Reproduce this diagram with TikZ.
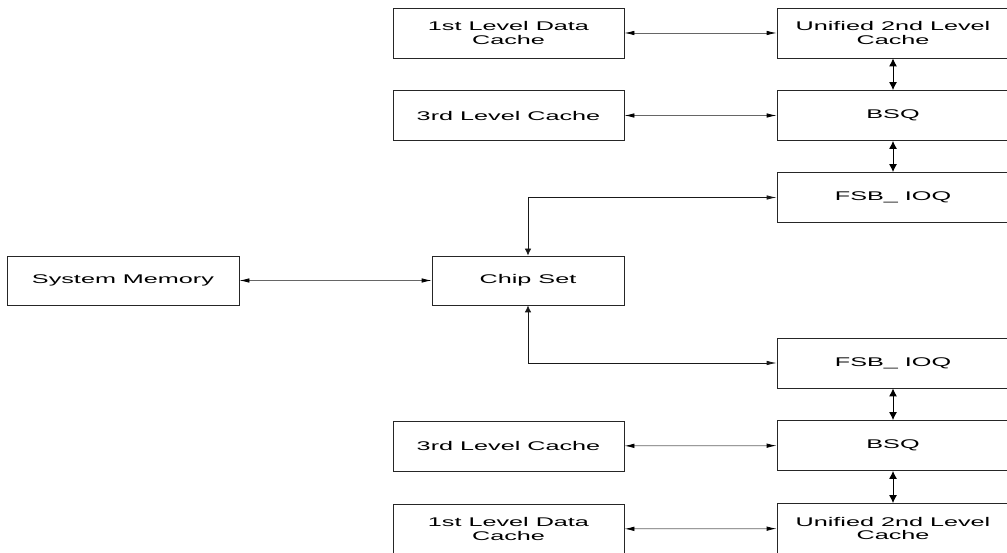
\documentclass[tikz,border=0pt]{standalone}
\usepackage{fontspec}
\setmainfont{Liberation Sans}[FakeStretch=2.0]
\usetikzlibrary{arrows.meta}
\begin{document}
\begin{tikzpicture}[x=1pt,y=-1pt,
  box/.style={draw=black!85,line width=0.8pt,minimum width=231pt,minimum height=50pt,inner sep=0pt,align=center,
    font=\fontsize{12.6}{13.2}\selectfont},
  htip/.style={Latex[length=10pt,width=4.5pt,color=black]},
  hlink/.style={draw=black!60,line width=0.8pt,{Latex[length=10pt,width=4.5pt,color=black]}-{Latex[length=10pt,width=4.5pt,color=black]}},
  vlink/.style={draw=black,line width=1pt,{Latex[length=8pt,width=8pt]}-{Latex[length=8pt,width=8pt]}},
  clink/.style={draw=black!90,line width=0.8pt}]
\useasboundingbox (0,0) rectangle (1007,553);
\fill[white] (0,0) rectangle (1007,553);
\node[box] (L1t) at (508.5,33) {1st Level Data\\Cache};
\node[box,minimum width=232pt] (U2t) at (893,33) {Unified 2nd Level\\Cache};
\node[box] (L3t) at (508.5,115.5) {3rd Level Cache};
\node[box,minimum width=232pt] (BSQt) at (893,115.5) {BSQ};
\node[box,minimum width=232pt] (FSBt) at (893,197.5) {FSB\_ IOQ};
\node[box,minimum width=232pt,minimum height=49pt] (SM) at (123,280.5) {System Memory};
\node[box,minimum width=192pt,minimum height=49pt] (CS) at (528,280.5) {Chip Set};
\node[box,minimum width=232pt] (FSBb) at (893,363) {FSB\_ IOQ};
\node[box,minimum width=232pt] (BSQb) at (893,445.5) {BSQ};
\node[box] (L3b) at (508.5,446) {3rd Level Cache};
\node[box] (L1b) at (508.5,529) {1st Level Data\\Cache};
\node[box,minimum width=232pt] (U2b) at (893,528.5) {Unified 2nd Level\\Cache};
\draw[hlink] (L1t) -- (U2t);
\draw[hlink] (L3t) -- (BSQt);
\draw[hlink] (L3b) -- (BSQb);
\draw[hlink] (L1b) -- (U2b);
\draw[hlink] (SM) -- (CS);
\draw[vlink] (U2t) -- (BSQt);
\draw[vlink] (BSQt) -- (FSBt);
\draw[vlink] (FSBb) -- (BSQb);
\draw[vlink] (BSQb) -- (U2b);
\draw[clink,{Latex[length=7pt,width=6.5pt]}-{Latex[length=10pt,width=4.5pt]}] (CS.north) |- (FSBt.west);
\draw[clink,{Latex[length=7pt,width=6.5pt]}-{Latex[length=10pt,width=4.5pt]}] (CS.south) |- (FSBb.west);
\end{tikzpicture}
\end{document}
